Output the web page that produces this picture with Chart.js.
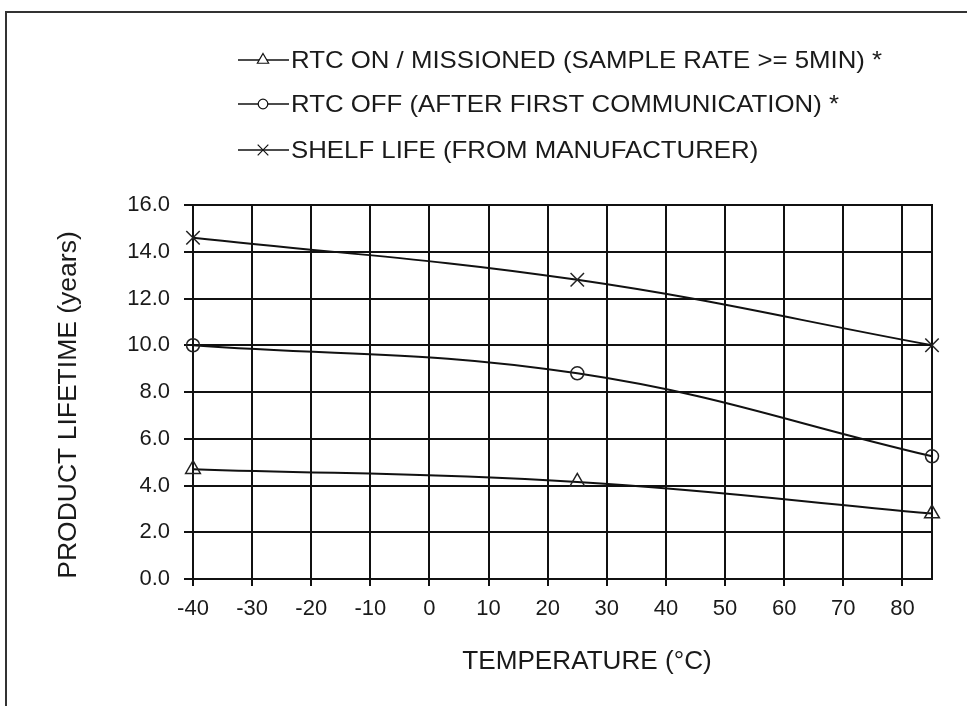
<!DOCTYPE html>
<html>
<head>
<meta charset="utf-8">
<script src="https://cdn.jsdelivr.net/npm/chart.js@4.4.1/dist/chart.umd.min.js"></script>
<style>
  html, body { margin: 0; padding: 0; background: #fff; }
  #wrap { position: relative; width: 967px; height: 706px; }
  #frame { position: absolute; left: 5px; top: 11px; right: 0; bottom: 0;
           border-top: 2px solid #333; border-left: 2px solid #333; }
  canvas { position: absolute; left: 0; top: 0; }
</style>
</head>
<body>
<div id="wrap">
  <div id="frame"></div>
  <canvas id="chart" width="967" height="706"></canvas>
</div>
<script>
const FONT = "'Liberation Sans', Arial, sans-serif"

// valori
const temps = [-40, 25, 85]
const rtcOn = [4.7, 4.15, 2.8]
const rtcOff = [10.0, 8.8, 5.25]
const shelf = [14.6, 12.8, 10.0]
const xTicks = [-40, -30, -20, -10, 0, 10, 20, 30, 40, 50, 60, 70, 80]
const labels = [
  'RTC ON / MISSIONED (SAMPLE RATE >= 5MIN) *',
  'RTC OFF (AFTER FIRST COMMUNICATION) *',
  'SHELF LIFE (FROM MANUFACTURER)'
]
const markers = ['triangle', 'circle', 'crossRot']
const xTitle = 'TEMPERATURE (°C)'
const yTitle = 'PRODUCT LIFETIME (years)'

const serie = [rtcOn, rtcOff, shelf]
const plotRadius = [8.5, 6.5, 9.5]
const legendRadius = [6.5, 4.8, 7.5]

const datasets = serie.map((vals, i) => ({
  label: labels[i],
  data: temps.map((t, j) => ({ x: t, y: vals[j] })),
  borderColor: '#111',
  borderWidth: 2,
  backgroundColor: '#fff',
  pointStyle: markers[i],
  pointRadius: plotRadius[i],
  pointBorderWidth: 1.5,
  pointBorderColor: '#222',
  pointBackgroundColor: 'rgba(255,255,255,0)',
  tension: 0.4,
  clip: false
}))

// testo allargato in orizzontale per avvicinarsi all'originale
function wideText(c, txt, x, y, sx) {
  c.save()
  c.translate(x, y)
  c.scale(sx, 1)
  c.fillText(txt, 0, 0)
  c.restore()
}

// legenda e titoli disegnati a mano
const decor = {
  id: 'decor',
  afterDraw: (chart) => {
    const c = chart.ctx
    c.save()
    c.fillStyle = '#1a1a1a'
    c.strokeStyle = '#111'
    c.font = '24px ' + FONT
    c.textBaseline = 'middle'
    c.textAlign = 'left'
    const rows = [60, 104, 150]
    chart.data.datasets.forEach((ds, i) => {
      const y = rows[i]
      c.lineWidth = 1.5
      c.beginPath()
      c.moveTo(238, y)
      c.lineTo(289, y)
      c.stroke()
      c.lineWidth = 1.2
      c.fillStyle = '#fff'
      Chart.helpers.drawPoint(c, { pointStyle: ds.pointStyle, radius: legendRadius[i], borderWidth: 1.2 }, 263, y)
      c.fillStyle = '#1a1a1a'
      wideText(c, ds.label, 291, y + 1, 1.075)
    })
    // titolo asse x
    c.font = '25px ' + FONT
    c.textAlign = 'center'
    wideText(c, xTitle, 587, 662, 1.045)
    // titolo asse y
    c.translate(69, 405)
    c.rotate(-Math.PI / 2)
    wideText(c, yTitle, 0, 0, 1.06)
    c.restore()
  }
}

const myChart = new Chart(document.getElementById('chart'), {
  type: 'line',
  data: { datasets: datasets },
  options: {
    responsive: false,
    animation: false,
    events: [],
    layout: { padding: { top: 205, right: 35, left: 0, bottom: 0 } },
    plugins: { legend: { display: false }, tooltip: { enabled: false } },
    scales: {
      x: {
        type: 'linear',
        min: -40,
        max: 85,
        afterFit: (s) => { s.height = 127 },
        afterBuildTicks: (s) => { s.ticks = xTicks.map(v => ({ value: v })) },
        ticks: { color: '#1a1a1a', padding: 10, maxRotation: 0, autoSkip: false,
                 font: { family: FONT, size: 22 } },
        grid: { color: '#111', lineWidth: 2, tickLength: 7 },
        border: { color: '#111', width: 2 }
      },
      y: {
        min: 0,
        max: 16,
        afterFit: (s) => { s.width = 193 },
        ticks: { stepSize: 2, color: '#1a1a1a', padding: 14,
                 font: { family: FONT, size: 22 },
                 callback: (v) => Number(v).toFixed(1) },
        grid: { color: '#111', lineWidth: 2, tickLength: 9 },
        border: { color: '#111', width: 2 }
      },
      y2: {
        position: 'right',
        min: 0,
        max: 16,
        afterFit: (s) => { s.width = 0 },
        ticks: { display: false },
        grid: { display: false },
        border: { display: true, color: '#111', width: 2 }
      }
    }
  },
  plugins: [decor]
})
</script>
</body>
</html>
